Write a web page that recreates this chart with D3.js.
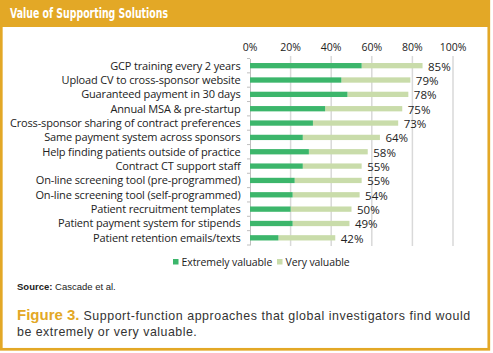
<!DOCTYPE html>
<html>
<head>
<meta charset="utf-8">
<script src="https://cdn.jsdelivr.net/npm/d3@7"></script>
<style>
  body { margin: 0; background: #fff; }
  svg { display: block; }
</style>
</head>
<body>
<svg id="chart" width="493" height="353"></svg>
<script>
// data
var CATEGORIES = ["GCP training every 2 years", "Upload CV to cross-sponsor website", "Guaranteed payment in 30 days",
    "Annual MSA & pre-startup", "Cross-sponsor sharing of contract preferences", "Same payment system across sponsors",
    "Help finding patients outside of practice", "Contract CT support staff", "On-line screening tool (pre-programmed)",
    "On-line screening tool (self-programmed)", "Patient recruitment templates", "Patient payment system for stipends",
    "Patient retention emails/texts"];
var EXTREMELY = [55, 45, 48, 37, 31, 26, 29, 26, 22, 21, 20, 21, 14];
var VERY = [30, 34, 30, 38, 42, 38, 29, 29, 33, 33, 30, 28, 28];
var TOTALS = [85, 79, 78, 75, 73, 64, 58, 55, 55, 54, 50, 49, 42];
var TICKS = [0, 20, 40, 60, 80, 100];
var SERIES = ["Extremely valuable", "Very valuable"];

var GOLD = "#e3a826";
var DARK = "#3cb66b";
var LIGHT = "#c9dcaa";
var LABEL_FONT = "'Open Sans', 'Noto Sans', sans-serif";

var svg = d3.select("#chart");

// frame and header
svg.append("rect").attr("x", 1.3).attr("y", 1.3).attr("width", 487.5).attr("height", 348)
    .attr("fill", "#fff").attr("stroke", GOLD).attr("stroke-width", 2.7);
svg.append("rect").attr("x", 0).attr("y", 0).attr("width", 490).attr("height", 27).attr("fill", GOLD);
svg.append("text").attr("x", 10).attr("y", 18)
    .attr("font-family", "'Liberation Sans Narrow', 'DejaVu Sans Condensed', sans-serif")
    .attr("font-weight", "bold").attr("font-size", 13.5).attr("fill", "#fff")
    .attr("textLength", 158).attr("lengthAdjust", "spacingAndGlyphs")
    .text("Value of Supporting Solutions");

var x = d3.scaleLinear().domain([0, 100]).range([250, 453]);
var y = d3.scaleBand().domain(CATEGORIES).range([58.5, 245]).paddingInner(0.63).paddingOuter(0.315);

// grid
svg.append("g").selectAll("line").data(TICKS.slice(1)).join("line")
    .attr("x1", d => x(d)).attr("x2", d => x(d))
    .attr("y1", 56).attr("y2", 246)
    .attr("stroke", "#d9d9d9").attr("stroke-width", 1.5);

// top axis labels
svg.append("g").selectAll("text").data(TICKS).join("text")
    .attr("x", d => x(d)).attr("y", 50.5)
    .attr("text-anchor", "middle")
    .attr("font-family", LABEL_FONT).attr("font-size", 10.5).attr("fill", "#222")
    .text(d => d + "%");

// left axis with small ticks between bands
var yAxis = d3.axisLeft(y).tickSize(0).tickFormat("");
var ax = svg.append("g").attr("transform", "translate(" + x(0) + ",0)").call(yAxis);
ax.select(".domain").attr("stroke", "#bfbfbf").attr("stroke-width", 1);
var bounds = CATEGORIES.map(c => y(c) - y.step() * y.paddingInner() / 2).concat([245]);
ax.selectAll("line.sep").data(bounds).join("line").attr("class", "sep")
    .attr("x1", -3).attr("x2", 0).attr("y1", d => d).attr("y2", d => d)
    .attr("stroke", "#bfbfbf");

// category labels
svg.append("g").selectAll("text").data(CATEGORIES).join("text")
    .attr("x", 240.5).attr("y", d => y(d) + y.bandwidth() / 2 + 4)
    .attr("text-anchor", "end")
    .attr("font-family", LABEL_FONT).attr("font-size", 11).attr("letter-spacing", -0.15).attr("fill", "#222")
    .text(d => d);

// bars
var stacked = CATEGORIES.map((c, i) => ({ cat: c, e: EXTREMELY[i], v: VERY[i], t: TOTALS[i] }));
var bars = svg.append("g");
bars.selectAll("rect.light").data(stacked).join("rect").attr("class", "light")
    .attr("x", d => x(d.e)).attr("width", d => x(d.e + d.v) - x(d.e))
    .attr("y", d => y(d.cat)).attr("height", y.bandwidth())
    .attr("fill", LIGHT);
bars.selectAll("rect.dark").data(stacked).join("rect").attr("class", "dark")
    .attr("x", x(0)).attr("width", d => x(d.e) - x(0))
    .attr("y", d => y(d.cat)).attr("height", y.bandwidth())
    .attr("fill", DARK);

// total labels
svg.append("g").selectAll("text").data(stacked).join("text")
    .attr("x", d => x(d.t) + 5.5).attr("y", d => y(d.cat) + y.bandwidth() / 2 + 5)
    .attr("font-family", LABEL_FONT).attr("font-size", 11.5).attr("fill", "#222")
    .text(d => d.t + "%");

// legend
var legend = svg.append("g").attr("transform", "translate(173,262)");
var lx = [0, 104];
SERIES.forEach((s, i) => {
    legend.append("rect").attr("x", lx[i]).attr("y", -3).attr("width", 5.5).attr("height", 5.5)
        .attr("fill", i == 0 ? DARK : LIGHT);
    legend.append("text").attr("x", lx[i] + 8.5).attr("y", 3.5)
        .attr("font-family", LABEL_FONT).attr("font-size", 10.5).attr("letter-spacing", -0.1).attr("fill", "#222")
        .text(s);
});

// source and caption
var src = svg.append("text").attr("x", 17).attr("y", 289.5)
    .attr("font-family", "'Liberation Sans', sans-serif").attr("font-size", 9.5).attr("fill", "#222");
src.append("tspan").attr("font-weight", "bold").text("Source:");
src.append("tspan").text(" Cascade et al.");

var cap = svg.append("text").attr("x", 17).attr("y", 320)
    .attr("font-family", "'Liberation Sans', sans-serif").attr("font-size", 12.4).attr("fill", "#333");
cap.append("tspan").attr("font-weight", "bold").attr("font-size", 15).attr("fill", GOLD).text("Figure 3.");
cap.append("tspan").attr("letter-spacing", 0.55).text(" Support-function approaches that global investigators find would");
svg.append("text").attr("x", 17).attr("y", 336)
    .attr("font-family", "'Liberation Sans', sans-serif").attr("font-size", 12.4).attr("fill", "#333")
    .attr("letter-spacing", 0.5)
    .text("be extremely or very valuable.");
</script>
</body>
</html>
